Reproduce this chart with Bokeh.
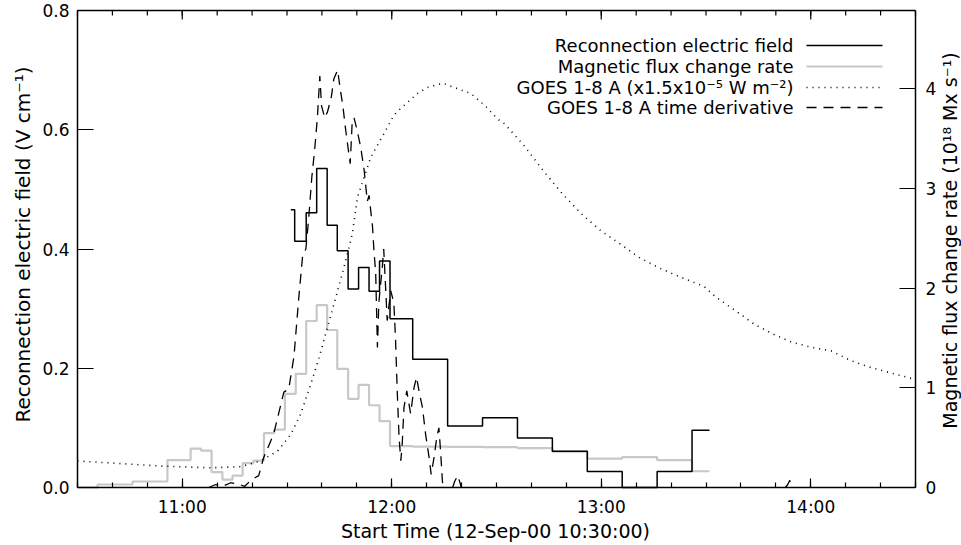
import math
import numpy as np
from bokeh.plotting import figure
from bokeh.models import Range1d, LinearAxis, FixedTicker, Label, PrintfTickFormatter
from bokeh.embed import file_html
from bokeh.resources import INLINE

# ---------------- data (time = minutes after 12-Sep-00 10:30:00) ----------------
efield_edges = [61.1, 62.2, 65.5, 68.5, 71.5, 74.4, 77.5, 80.5, 83.5, 86.5, 89.5,
                96.0, 106.0, 116.0, 126.0, 136.0, 146.0, 156.0, 166.0, 176.0, 181.0]
efield_values = [0.466, 0.413, 0.461, 0.535, 0.440, 0.397, 0.333, 0.369, 0.329, 0.380,
                 0.283, 0.215, 0.103, 0.117, 0.083, 0.061, 0.027, 0.0, 0.027, 0.096]

flux_edges = [0.0, 5.75, 15.75, 25.75, 32.4, 35.4, 38.4, 41.5, 44.4, 47.3, 50.4, 53.4,
              56.3, 59.4, 62.5, 65.5, 68.5, 71.5, 74.4, 77.5, 80.5, 83.5, 86.5, 89.5,
              96.0, 106.0, 116.0, 126.0, 136.0, 146.0, 156.0, 166.0, 176.0, 181.0]
flux_values = [0.0, 0.03, 0.06, 0.275, 0.39, 0.37, 0.155, 0.08, 0.12, 0.245, 0.27,
               0.545, 0.58, 0.94, 1.14, 1.67, 1.83, 1.58, 1.19, 0.89, 1.03, 0.825,
               0.665, 0.415, 0.41, 0.407, 0.405, 0.395, 0.36, 0.29, 0.305, 0.274, 0.163]

goes_time = [0.0, 23.8, 38.2, 46.8, 52.5, 57.3, 61.1, 63.9, 66.8, 69.2, 71.6, 73.9,
             76.3, 78.7, 80.2, 84.0, 87.8, 90.6, 92.6, 97.4, 100.3, 104.6, 108.8,
             112.6, 116.8, 120.3, 122.3, 127.8, 133.3, 138.8, 144.3, 149.8, 155.3,
             160.8, 166.3, 171.8, 177.4, 179.5, 182.9, 188.3, 193.8, 199.3, 204.9,
             210.4, 215.9, 221.4, 226.8, 232.4, 240.0]
goes_flux = [0.0445, 0.036, 0.033, 0.035, 0.045, 0.061, 0.089, 0.123, 0.173, 0.218,
             0.269, 0.317, 0.369, 0.425, 0.487, 0.554, 0.594, 0.624, 0.636, 0.661,
             0.671, 0.678, 0.669, 0.661, 0.640, 0.618, 0.610, 0.574, 0.532, 0.493,
             0.459, 0.431, 0.409, 0.386, 0.369, 0.355, 0.342, 0.337, 0.319, 0.297,
             0.274, 0.257, 0.243, 0.235, 0.229, 0.213, 0.202, 0.193, 0.181]

deriv_time = [0.0, 35.3, 37.6, 39.6, 41.6, 43.9, 45.9, 47.9, 49.6, 51.9, 53.3, 56.2,
              59.1, 60.5, 62.0, 63.4, 64.5, 65.4, 66.2, 67.1, 67.9, 68.7, 69.4, 69.9,
              70.8, 71.6, 72.7, 73.4, 74.5, 75.2, 76.0, 76.8, 78.1, 78.7, 79.2, 80.2,
              81.1, 82.1, 83.0, 83.5, 84.5, 84.9, 85.4, 85.9, 86.3, 87.3, 87.7, 88.7,
              89.7, 90.6, 91.1, 91.6, 92.1, 92.6, 93.0, 93.5, 94.3, 95.4, 96.4, 97.1,
              97.8, 98.8, 99.7, 100.7, 101.3, 102.1, 102.9, 103.5, 104.0, 104.5, 105.4,
              106.9, 108.0, 108.9, 109.7, 110.6, 121.2, 149.9, 201.4, 203.4, 204.0,
              204.6, 221.4, 240.0]
deriv_value = [-0.02, -0.01, 0.0, 0.005, 0.002, 0.008, 0.006, 0.002, 0.012, 0.02, 0.05,
               0.09, 0.16, 0.165, 0.22, 0.32, 0.39, 0.40, 0.45, 0.52, 0.565, 0.62, 0.69,
               0.64, 0.62, 0.63, 0.655, 0.685, 0.70, 0.67, 0.64, 0.60, 0.543, 0.616,
               0.62, 0.596, 0.571, 0.532, 0.48, 0.49, 0.437, 0.397, 0.36, 0.235, 0.31,
               0.37, 0.40, 0.28, 0.33, 0.31, 0.246, 0.157, 0.084, 0.045, 0.073, 0.134,
               0.162, 0.124, 0.168, 0.185, 0.162, 0.134, 0.089, 0.05, 0.022, 0.05, 0.084,
               0.10, 0.06, 0.011, -0.03, -0.01, 0.01, 0.02, 0.005, -0.02, -0.03, -0.02,
               -0.01, 0.005, 0.012, -0.005, -0.02, -0.02]

hour_ticks = [30, 90, 150, 210]
hour_labels = ["11:00", "12:00", "13:00", "14:00"]
minor_time_ticks = list(range(0, 241, 10))
efield_ticks = [0.0, 0.2, 0.4, 0.6, 0.8]
flux_ticks = [0, 1, 2, 3, 4]

x_title = "Start Time (12-Sep-00 10:30:00)"
left_title = "Reconnection electric field (V cm\u207b\u00b9)"
right_title = "Magnetic flux change rate (10\u00b9\u2078 Mx s\u207b\u00b9)"
legend_labels = ["Reconnection electric field",
                 "Magnetic flux change rate",
                 "GOES 1-8 A (x1.5x10\u207b\u2075 W m\u207b\u00b2)",
                 "GOES 1-8 A time derivative"]

# ---------------- layout constants ----------------
W, H = 961, 545
BOX_L, BOX_T, BOX_R, BOX_B = 77, 10, 915, 487      # page pixels of the plot box
TMAX, YMAX, FMAX = 240.0, 0.8, 4.785
FONT = "DejaVu Sans"
GRAY = "#c8c8c8"


def px_x(px):
    return (px - BOX_L) / (BOX_R - BOX_L) * TMAX


def px_y(py):
    return (BOX_B - py) / (BOX_B - BOX_T) * YMAX


def px_f(py):
    return (BOX_B - py) / (BOX_B - BOX_T) * FMAX


# the drawing area covers the whole canvas; the axes are pinned to the box edges
p = figure(width=W, height=H, output_backend="svg", toolbar_location=None,
           x_range=Range1d(px_x(0), px_x(W)), y_range=Range1d(px_y(H), px_y(0)),
           min_border=0, x_axis_location=None, y_axis_location=None)
p.background_fill_color = "white"
p.border_fill_color = "white"
p.outline_line_color = None
p.xgrid.visible = False
p.ygrid.visible = False
p.extra_y_ranges = {"flux": Range1d(px_f(H), px_f(0))}


def style(ax):
    ax.axis_line_color = "black"
    ax.axis_line_width = 1.5
    ax.major_tick_line_color = "black"
    ax.minor_tick_line_color = "black"
    ax.major_tick_line_width = 1.2
    ax.minor_tick_line_width = 1.2
    ax.major_tick_out = 0
    ax.minor_tick_out = 0
    ax.major_label_text_font = FONT
    ax.major_label_text_font_size = "17px"
    ax.major_label_text_color = "black"


xb = LinearAxis(ticker=FixedTicker(ticks=hour_ticks, minor_ticks=minor_time_ticks),
                fixed_location=0.0, bounds=(0, TMAX))
style(xb)
xb.major_label_overrides = {t: l for t, l in zip(hour_ticks, hour_labels)}
xb.major_tick_in = 9
xb.minor_tick_in = 5
xb.major_label_standoff = 9
p.add_layout(xb, "below")

yl = LinearAxis(ticker=FixedTicker(ticks=efield_ticks, minor_ticks=[]),
                formatter=PrintfTickFormatter(format="%.1f"),
                fixed_location=0.0, bounds=(0, YMAX))
style(yl)
yl.major_tick_in = 16
yl.minor_tick_in = 0
yl.major_label_standoff = 8
p.add_layout(yl, "left")

yr = LinearAxis(y_range_name="flux", ticker=FixedTicker(ticks=flux_ticks, minor_ticks=[]),
                fixed_location=TMAX, bounds=(0, FMAX))
style(yr)
yr.major_tick_in = 16
yr.minor_tick_in = 0
yr.major_label_standoff = 10
p.add_layout(yr, "right")

# top edge of the plot box with its mirrored time ticks
p.segment(x0=[0], y0=[YMAX], x1=[TMAX], y1=[YMAX], line_color="black", line_width=1.5)
maj_len = 9 / (BOX_B - BOX_T) * YMAX
min_len = 5 / (BOX_B - BOX_T) * YMAX
p.segment(x0=minor_time_ticks, y0=[YMAX] * len(minor_time_ticks),
          x1=minor_time_ticks, y1=[YMAX - min_len] * len(minor_time_ticks),
          line_color="black", line_width=1.2)
p.segment(x0=hour_ticks, y0=[YMAX] * len(hour_ticks),
          x1=hour_ticks, y1=[YMAX - maj_len] * len(hour_ticks),
          line_color="black", line_width=1.2)

# axis titles
title_style = dict(text_font=FONT, text_color="black", text_align="center",
                   text_baseline="middle")
p.add_layout(Label(x=px_x(495), y=px_y(530), text=x_title, text_font_size="19px",
                   **title_style))
p.add_layout(Label(x=px_x(22), y=px_y(244), text=left_title, angle=math.pi / 2,
                   text_font_size="20px", **title_style))
p.add_layout(Label(x=px_x(949), y=px_y(240), text=right_title, angle=math.pi / 2,
                   text_font_size="19px", **title_style))


# ---------------- series ----------------
def above_zero(ts, vs):
    """Cut a curve where it dips below the lower edge of the box (as the original clips it)."""
    xs, ys = [], []
    for i in range(len(ts)):
        if i > 0 and (vs[i - 1] < 0) != (vs[i] < 0):
            t0, t1, v0, v1 = ts[i - 1], ts[i], vs[i - 1], vs[i]
            xs.append(t0 - v0 * (t1 - t0) / (v1 - v0))
            ys.append(0.0)
        xs.append(ts[i])
        ys.append(vs[i] if vs[i] >= 0 else np.nan)
    return np.array(xs, dtype=float), np.array(ys, dtype=float)


p.step(x=flux_edges, y=flux_values + [flux_values[-1]], mode="after",
       y_range_name="flux", line_color=GRAY, line_width=2.2)
p.step(x=efield_edges, y=efield_values + [efield_values[-1]], mode="after",
       line_color="black", line_width=1.5)
p.line(x=goes_time, y=goes_flux, line_color="black", line_width=1.6, line_dash="1 5")
dx, dy = above_zero(deriv_time, deriv_value)
p.line(x=dx, y=dy, line_color="black", line_width=1.3, line_dash="10 7")

# ---------------- legend: text, then a line sample to its right ----------------
rows_y = [45, 66, 87, 107]
styles = [dict(line_color="black", line_width=1.5),
          dict(line_color=GRAY, line_width=2.2),
          dict(line_color="black", line_width=1.6, line_dash="1 5"),
          dict(line_color="black", line_width=1.3, line_dash="10 7")]
for lab, ry, st in zip(legend_labels, rows_y, styles):
    p.add_layout(Label(x=px_x(793), y=px_y(ry), text=lab, text_align="right",
                       text_baseline="middle", text_font=FONT, text_font_size="18px",
                       text_color="black"))
    p.line(x=[px_x(806), px_x(882)], y=[px_y(ry), px_y(ry)], **st)

open("out.html", "w").write(file_html(p, INLINE))
